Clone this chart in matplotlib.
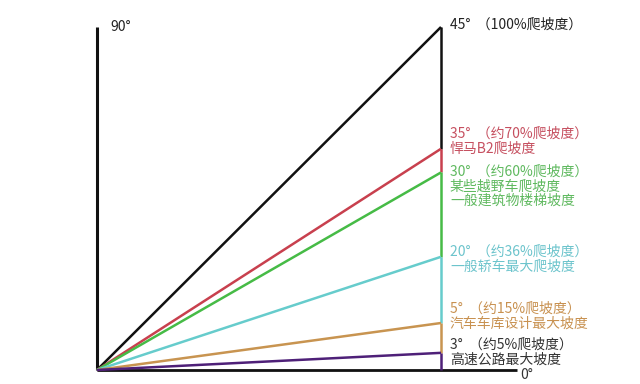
import matplotlib.pyplot as plt

plt.rcParams['font.family'] = ['Noto Sans CJK SC', 'DejaVu Sans']

# slope (rise per unit run) of each line
grades = [1.0, 0.645, 0.576, 0.33, 0.137, 0.05]
line_colors = ['#111111', '#c8404e', '#46bb46', '#66cccc', '#c89450', '#4e2078']
text_colors = ['#222222', '#c65060', '#5fb95f', '#6cc4cc', '#c89150', '#333333']
labels = [
    ['45°  （100%爬坡度）'],
    ['35°  （约70%爬坡度）', '悍马B2爬坡度'],
    ['30°  （约60%爬坡度）', '某些越野车爬坡度', '一般建筑物楼梯坡度'],
    ['20°  （约36%爬坡度）', '一般轿车最大爬坡度'],
    ['5°  （约15%爬坡度）', '汽车车库设计最大坡度'],
    ['3°  （约5%爬坡度）', '高速公路最大坡度'],
]
# pixel rows of the first text line of each label block
label_rows = [25, 134, 172, 252, 309, 345]

# pixel frame of the diagram
x0, y0, px_x, px_y = 97, 370, 344, 343
W, H = 640, 384


def ypix(p):
    return (y0 - p) / px_y


fig = plt.figure(figsize=(W / 100, H / 100), dpi=100)
ax = fig.add_axes([0, 0, 1, 1])
ax.set_xlim(-x0 / px_x, (W - x0) / px_x)
ax.set_ylim(ypix(H), ypix(0))
ax.axis('off')

# left vertical (90°) and baseline (0°)
ax.plot([0, 0], [0, 1.0], color='#111111', lw=2.2, solid_capstyle='butt')
ax.plot([0, 1.22], [0, 0], color='#111111', lw=2.0, solid_capstyle='butt')
ax.text(0.04, 1.0, '90°', fontsize=10, color='#222222', va='center', ha='left')
ax.text(1.23, -0.015, '0°', fontsize=10, color='#333333', va='center', ha='left')

# slope lines and the coloured pieces of the right vertical
for i, g in enumerate(grades):
    ax.plot([0, 1], [0, g], color=line_colors[i], lw=1.8, solid_capstyle='butt')
    below = grades[i + 1] if i + 1 < len(grades) else 0
    ax.plot([1, 1], [g, below], color=line_colors[i], lw=1.8, solid_capstyle='butt')

# labels
for i, lines in enumerate(labels):
    for j, s in enumerate(lines):
        row = label_rows[i] + j * 14.5
        ax.text(1.026, ypix(row), s, fontsize=10, color=text_colors[i],
                va='center', ha='left')

fig.savefig('out.png', dpi=100)
